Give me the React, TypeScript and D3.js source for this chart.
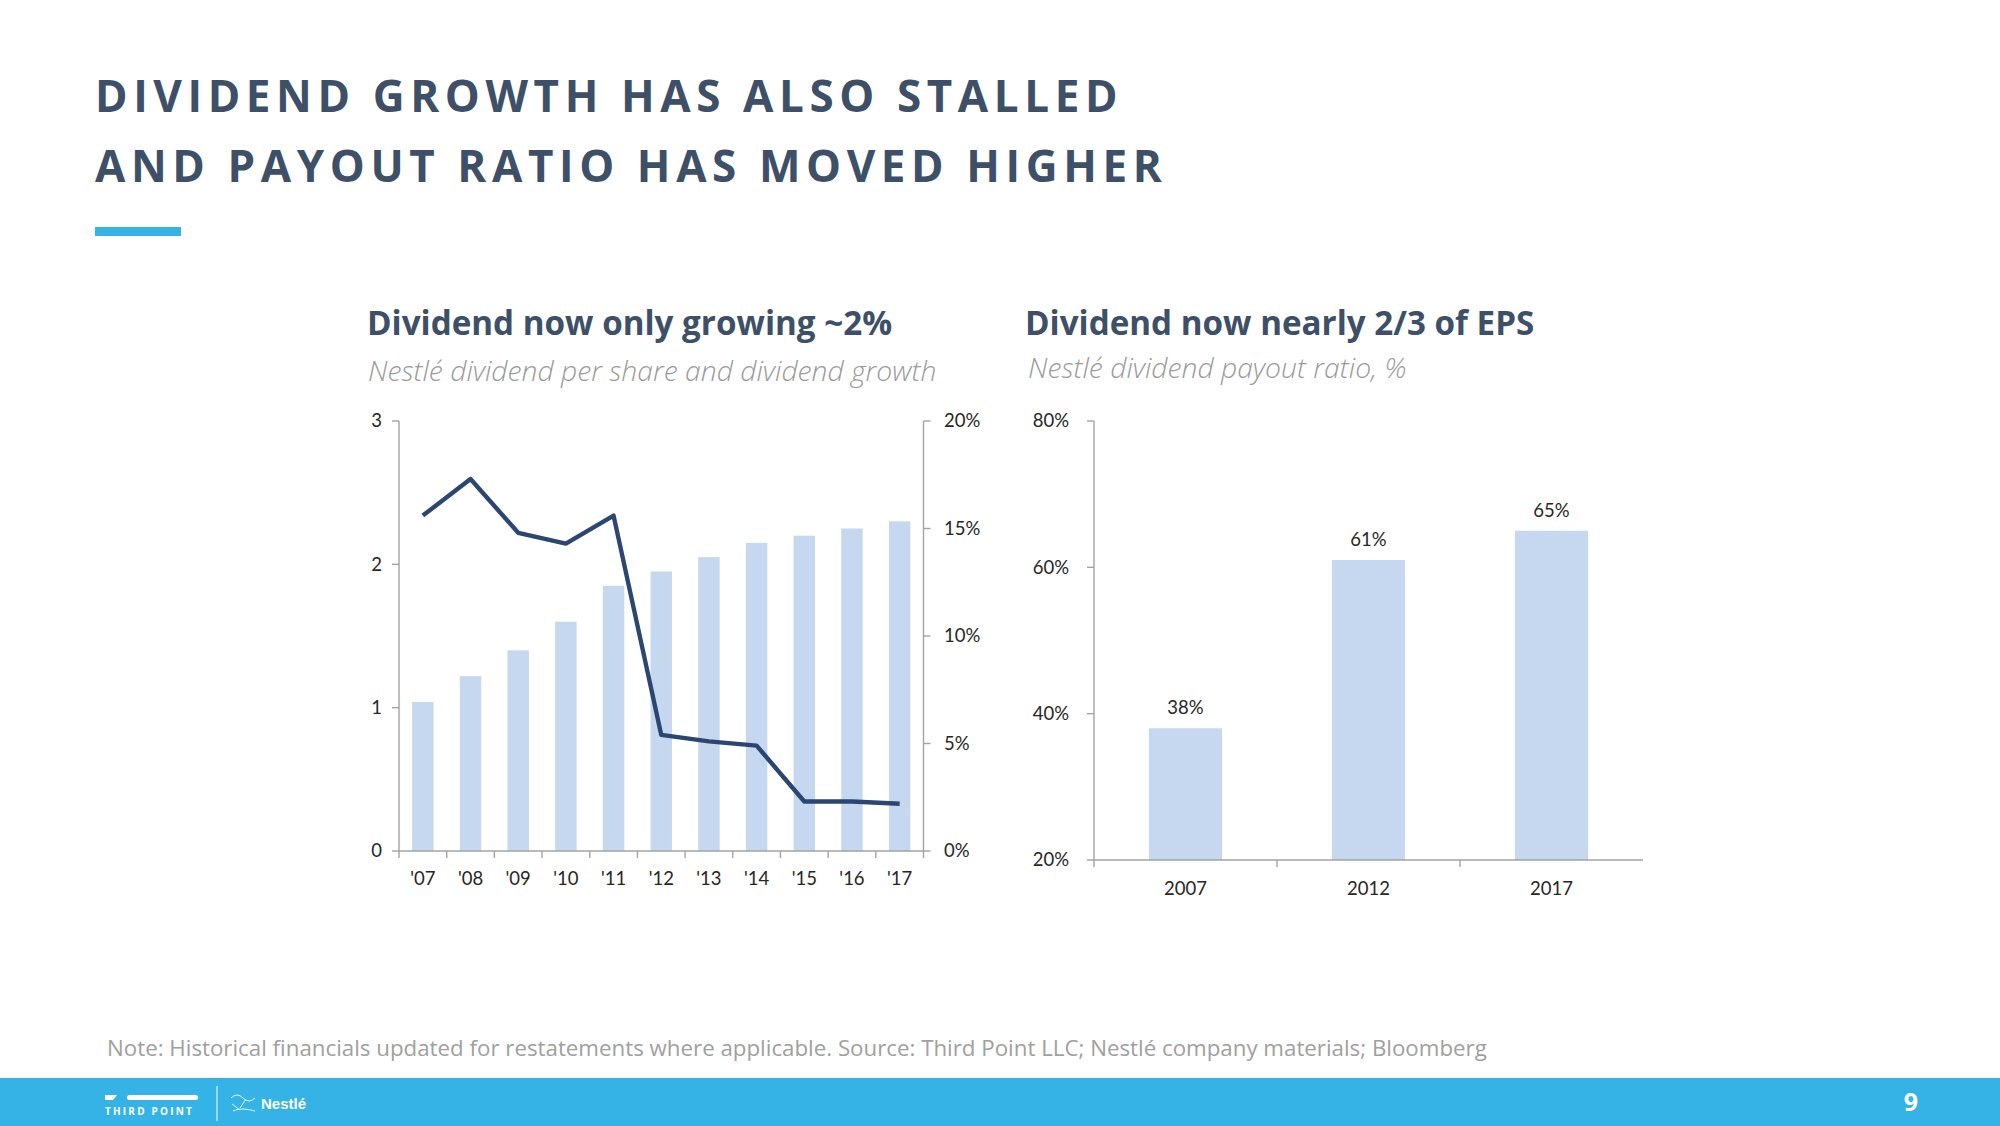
import React from "react";
import * as d3 from "d3";

const years = ["'07", "'08", "'09", "'10", "'11", "'12", "'13", "'14", "'15", "'16", "'17"];
const dividendPerShare = [1.04, 1.22, 1.4, 1.6, 1.85, 1.95, 2.05, 2.15, 2.2, 2.25, 2.3];
const dividendGrowth = [15.6, 17.3, 14.8, 14.3, 15.6, 5.4, 5.1, 4.9, 2.3, 2.3, 2.2];
const leftTicks = [0, 1, 2, 3];
const rightTicks = [0, 5, 10, 15, 20];

const payoutYears = ["2007", "2012", "2017"];
const payoutRatio = [38, 61, 65];
const payoutTicks = [20, 40, 60, 80];

const NAVY = "#3e4f68";
const BAR = "#c6d8ef";
const LINE = "#2b4671";
const AXIS = "#a3a3a3";
const TXT = "#262626";
const CAL = "Lato, 'Open Sans', sans-serif";
const OS = "'Open Sans', sans-serif";

export default function App() {
  // Left chart
  const L = { x0: 399, x1: 923.5, y0: 851, y1: 421 };
  const xL = d3.scaleBand<string>().domain(years).range([L.x0, L.x1]).paddingInner(0.55).paddingOuter(0.275);
  const yL = d3.scaleLinear().domain([0, 3]).range([L.y0, L.y1]);
  const yR = d3.scaleLinear().domain([0, 20]).range([L.y0, L.y1]);
  const step = (L.x1 - L.x0) / years.length;
  const line = d3
    .line<number>()
    .x((_, i) => (xL(years[i]) as number) + xL.bandwidth() / 2)
    .y((d) => yR(d));

  // Right chart
  const R = { x0: 1094, x1: 1643, y0: 860, y1: 421 };
  const xP = d3.scaleBand<string>().domain(payoutYears).range([R.x0, R.x1]).paddingInner(0.6).paddingOuter(0.3);
  const yP = d3.scaleLinear().domain([20, 80]).range([R.y0, R.y1]);
  const pStep = (R.x1 - R.x0) / payoutYears.length;

  return (
    <svg
      width={2000}
      height={1126}
      style={{ position: "absolute", left: 0, top: 0, background: "#fff" }}
    >
      {/* Title */}
      <g fontFamily={OS} fontWeight={700} fill={NAVY} fontSize={44} letterSpacing={5.6}>
        <text x={95} y={112}>DIVIDEND GROWTH HAS ALSO STALLED</text>
        <text x={95} y={182}>AND PAYOUT RATIO HAS MOVED HIGHER</text>
      </g>
      <rect x={95} y={227} width={86} height={9} fill="#35b3e6" />

      {/* Subtitles */}
      <text x={367} y={335} fontFamily={OS} fontWeight={700} fontSize={33.2} fill={NAVY}>
        Dividend now only growing ~2%
      </text>
      <text x={368} y={381} fontFamily={OS} fontStyle="italic" fontWeight={300} fontSize={28.3} fill="#9a9a9a">
        Nestlé dividend per share and dividend growth
      </text>
      <text x={1025} y={335} fontFamily={OS} fontWeight={700} fontSize={33.2} fill={NAVY}>
        Dividend now nearly 2/3 of EPS
      </text>
      <text x={1028} y={378} fontFamily={OS} fontStyle="italic" fontWeight={300} fontSize={28.3} fill="#9a9a9a">
        Nestlé dividend payout ratio, %
      </text>

      {/* Left chart bars */}
      <g>
        {dividendPerShare.map((v, i) => (
          <rect
            key={years[i]}
            x={xL(years[i])}
            y={yL(v)}
            width={xL.bandwidth()}
            height={L.y0 - yL(v)}
            fill={BAR}
          />
        ))}
      </g>
      {/* Left axes */}
      <g stroke={AXIS} strokeWidth={1.4} fill="none">
        <line x1={L.x0} x2={L.x0} y1={L.y1} y2={L.y0} />
        {leftTicks.map((t) => (
          <line key={t} x1={L.x0 - 7} x2={L.x0} y1={yL(t)} y2={yL(t)} />
        ))}
        <line x1={L.x1} x2={L.x1} y1={L.y1} y2={L.y0} />
        {rightTicks.map((t) => (
          <line key={t} x1={L.x1} x2={L.x1 + 7} y1={yR(t)} y2={yR(t)} />
        ))}
        <line x1={L.x0} x2={L.x1} y1={L.y0} y2={L.y0} />
        {d3.range(years.length + 1).map((i) => (
          <line key={i} x1={L.x0 + i * step} x2={L.x0 + i * step} y1={L.y0} y2={L.y0 + 7} />
        ))}
      </g>
      <path d={line(dividendGrowth) ?? ""} fill="none" stroke={LINE} strokeWidth={4.4} strokeLinejoin="round" />
      <g fontFamily={CAL} fontSize={18.5} fill={TXT}>
        {leftTicks.map((t) => (
          <text key={t} x={382} y={yL(t)} dy="0.35em" textAnchor="end">
            {t}
          </text>
        ))}
        {rightTicks.map((t) => (
          <text key={t} x={944} y={yR(t)} dy="0.35em" textAnchor="start">
            {t + "%"}
          </text>
        ))}
        {years.map((y) => (
          <text key={y} x={(xL(y) as number) + xL.bandwidth() / 2} y={885} textAnchor="middle">
            {y}
          </text>
        ))}
      </g>

      {/* Right chart bars */}
      <g>
        {payoutRatio.map((v, i) => (
          <rect
            key={payoutYears[i]}
            x={xP(payoutYears[i])}
            y={yP(v)}
            width={xP.bandwidth()}
            height={R.y0 - yP(v)}
            fill={BAR}
          />
        ))}
      </g>
      <g stroke={AXIS} strokeWidth={1.4} fill="none">
        <line x1={R.x0} x2={R.x0} y1={R.y1} y2={R.y0} />
        {payoutTicks.map((t) => (
          <line key={t} x1={R.x0 - 7} x2={R.x0} y1={yP(t)} y2={yP(t)} />
        ))}
        <line x1={R.x0} x2={R.x1} y1={R.y0} y2={R.y0} />
        {d3.range(payoutYears.length).map((i) => (
          <line key={i} x1={R.x0 + i * pStep} x2={R.x0 + i * pStep} y1={R.y0} y2={R.y0 + 7} />
        ))}
      </g>
      <g fontFamily={CAL} fontSize={18.5} fill={TXT}>
        {payoutTicks.map((t) => (
          <text key={t} x={1069} y={yP(t)} dy="0.35em" textAnchor="end">
            {t + "%"}
          </text>
        ))}
        {payoutYears.map((y) => (
          <text key={y} x={(xP(y) as number) + xP.bandwidth() / 2} y={895} textAnchor="middle">
            {y}
          </text>
        ))}
        {payoutRatio.map((v, i) => (
          <text
            key={payoutYears[i]}
            x={(xP(payoutYears[i]) as number) + xP.bandwidth() / 2}
            y={yP(v) - 14}
            textAnchor="middle"
          >
            {v + "%"}
          </text>
        ))}
      </g>

      {/* Footnote */}
      <text x={107} y={1056} fontFamily={OS} fontSize={22.3} fill="#a0a0a0">
        Note: Historical financials updated for restatements where applicable. Source: Third Point LLC; Nestlé company materials; Bloomberg
      </text>

      {/* Footer band */}
      <rect x={0} y={1078} width={2000} height={48} fill="#35b3e6" />
      <g fill="#fff">
        <path d="M105,1095 L117,1095 L113,1100 L105,1100 Z" />
        <rect x={127} y={1095} width={71} height={5} rx={2.5} />
        <text x={105} y={1115} fontFamily={OS} fontWeight={700} fontSize={10} letterSpacing={2.2}>
          THIRD POINT
        </text>
        <rect x={216.5} y={1086} width={1} height={35} />
        <g stroke="#fff" strokeWidth={1} fill="none" opacity={0.85}>
          <path d="M231,1098 q6,-6 12,0 q6,6 12,0 M232,1104 l8,6 M246,1099 l-6,9 M233,1111 q8,-4 22,0" />
        </g>
        <text x={261} y={1109} fontFamily={"'Liberation Sans', sans-serif"} fontWeight={700} fontSize={15}>
          Nestlé
        </text>
        <text x={1911} y={1111} fontFamily={OS} fontWeight={700} fontSize={25} textAnchor="middle">
          9
        </text>
      </g>
    </svg>
  );
}
